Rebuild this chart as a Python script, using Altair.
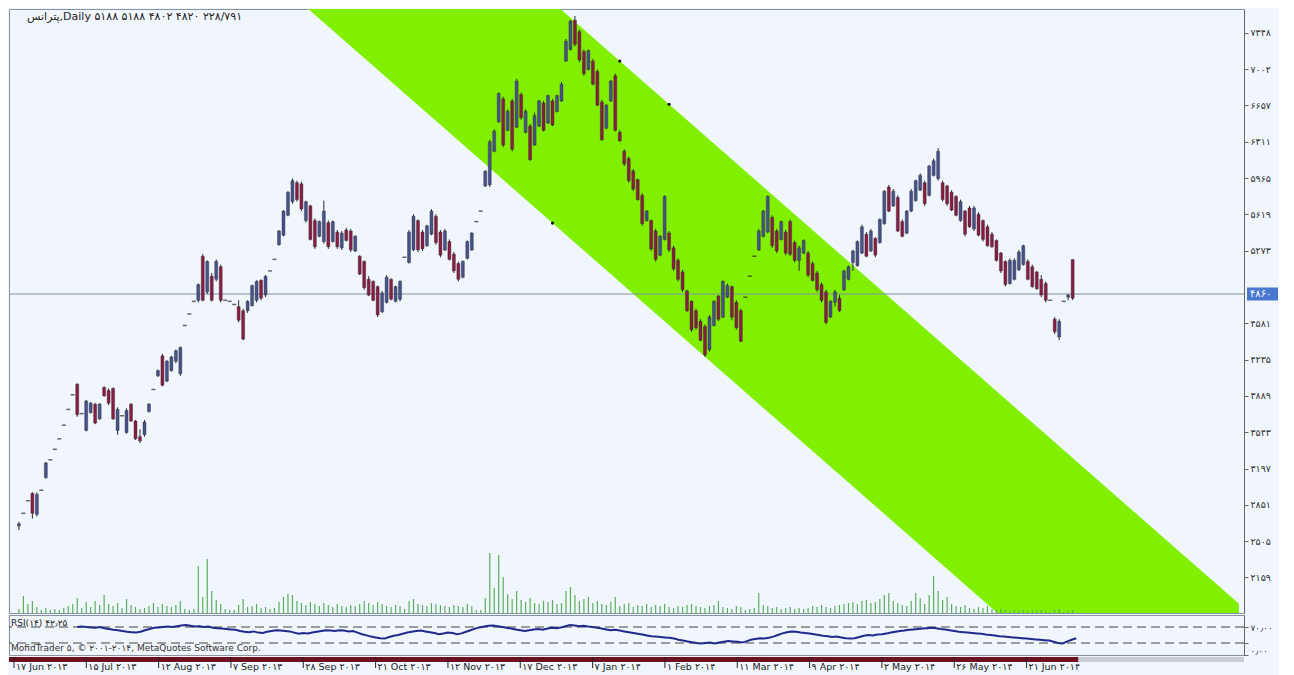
import altair as alt
import pandas as pd

# ---------------- data ----------------
open_ = [2650,2770,2890,2960,2760,2990,3110,3280,3380,3480,3610,3760,3900,4000,3720,3560,
3730,3810,3670,3970,3940,3960,3560,3700,3540,3810,3650,3500,3520,3740,3950,4080,
4270,4030,4130,4220,4100,4560,4670,4790,4800,5220,4880,5030,5000,5120,4800,4790,
4760,4740,4700,4700,4750,4800,4990,4850,5080,5190,5330,5420,5610,5740,5920,5910,
5560,5700,5560,5410,5360,5540,5360,5450,5300,5470,5460,5270,5220,5170,5000,4980,
4930,4690,4780,5000,4790,4810,5210,5160,5280,5560,5450,5320,5430,5600,5450,5280,
5360,5240,5150,5020,5200,5280,5550,5650,5890,5900,6220,6500,6720,6420,6700,6450,
6760,6400,6460,6280,6460,6680,6490,6700,6600,6700,7080,7190,7470,7360,7170,7000,
7080,6980,6690,6440,6700,6940,6400,6220,6150,6030,5950,5800,5560,5560,5460,5230,
5380,5440,5300,5180,5070,4890,4790,4700,4600,4550,4330,4560,4840,4640,4830,4930,
4780,4700,4830,5030,5220,5280,5410,5450,5590,5460,5380,5450,5550,5350,5180,5250,
5250,5150,5060,4950,4880,4640,4780,4820,4900,5000,5160,5130,5250,5430,5270,5390,
5350,5530,5880,5700,5780,5550,5440,5650,5750,5850,5920,5800,5990,5960,5920,5890,
5830,5790,5560,5650,5680,5480,5620,5560,5500,5430,5370,5250,5170,4960,5000,5090,
5140,5170,5120,5070,5000,4960,4800,4620,4450,4790,4830,5188]
high = [2690,2770,2890,2970,2970,2990,3260,3280,3380,3480,3610,3760,3900,4010,3720,3850,
3830,3820,3820,3980,3960,3970,3780,3700,3770,3820,3660,3570,3660,3820,3960,4140,
4290,4230,4270,4330,4360,4560,4670,4790,4960,5240,5180,5060,5190,5140,4800,4790,
4760,4800,4720,4800,4950,4990,5000,5040,5080,5190,5470,5660,5840,5960,5940,5930,
5750,5710,5580,5560,5750,5560,5560,5470,5460,5490,5480,5420,5230,5180,5030,4990,
4940,4890,5040,5010,4940,4990,5210,5470,5620,5570,5470,5520,5670,5620,5470,5480,
5380,5260,5170,5180,5370,5450,5550,5650,6040,6330,6430,6780,6740,6620,6720,6910,
6780,6620,6480,6590,6710,6700,6760,6720,6760,6880,7290,7470,7510,7380,7190,7190,
7100,7000,6710,6670,6900,6960,6420,6240,6170,6050,5960,5820,5660,5570,5480,5420,
5800,5460,5320,5200,5090,4900,4800,4720,4620,4570,4660,4800,4850,4990,4960,4940,
4800,4720,4830,5030,5220,5480,5660,5800,5610,5480,5560,5470,5570,5370,5320,5380,
5270,5170,5080,4970,4900,4800,4900,4850,5090,5130,5280,5370,5520,5450,5480,5400,
5580,5850,5900,5860,5800,5570,5660,5860,5950,6010,5940,6090,6150,6250,5940,5900,
5850,5800,5760,5660,5700,5700,5640,5570,5520,5450,5380,5260,5180,5200,5200,5280,
5330,5190,5140,5080,5040,4980,4800,4640,4620,4790,4860,5188]
low = [2610,2770,2890,2720,2740,2990,3100,3280,3380,3480,3610,3760,3900,3690,3720,3550,
3720,3620,3660,3880,3800,3660,3520,3700,3530,3640,3470,3440,3500,3730,3870,4070,
3980,4020,4120,4200,4080,4560,4670,4790,4780,4790,4860,4790,4980,4780,4800,4790,
4760,4590,4420,4680,4740,4780,4800,4830,5080,5190,5320,5410,5600,5720,5740,5650,
5540,5370,5290,5400,5340,5290,5350,5290,5280,5360,5260,5260,5040,4900,4840,4790,
4640,4680,4770,4800,4780,4790,5210,5150,5270,5260,5270,5310,5420,5330,5210,5270,
5180,5060,4980,5010,5190,5270,5550,5650,5880,5880,6210,6490,6260,6410,6220,6440,
6520,6390,6130,6270,6450,6410,6480,6460,6590,6690,7070,7180,7220,7070,6940,6990,
6850,6650,6320,6430,6690,6410,6310,6080,5920,5840,5750,5510,5550,5270,5170,5220,
5370,5260,5080,4980,4880,4690,4500,4520,4410,4260,4310,4550,4600,4630,4820,4610,
4520,4400,4830,5030,5220,5270,5400,5440,5300,5250,5370,5230,5220,5160,5080,5240,
5020,4980,4880,4780,4570,4630,4740,4690,4890,4990,5080,5120,5240,5210,5260,5210,
5340,5520,5640,5690,5450,5400,5430,5640,5740,5840,5700,5790,5980,5940,5740,5700,
5650,5600,5550,5410,5490,5460,5410,5360,5310,5300,5170,5060,4930,4950,4990,5080,
5130,4990,4920,4900,4830,4780,4800,4480,4420,4790,4800,4802]
close = [2670,2770,2890,2770,2950,2990,3250,3280,3380,3480,3610,3760,3900,3710,3720,3840,
3820,3630,3810,3890,3820,3670,3760,3700,3750,3650,3480,3460,3640,3810,3950,4130,
3990,4220,4260,4320,4350,4560,4670,4790,4950,4800,5170,4800,5170,4800,4800,4790,
4760,4610,4430,4790,4940,4980,4820,5030,5080,5190,5460,5650,5830,5940,5760,5670,
5740,5380,5310,5550,5650,5310,5550,5310,5440,5370,5280,5410,5050,4920,4850,4800,
4660,4870,5020,4810,4930,4980,5210,5450,5600,5280,5290,5510,5650,5350,5230,5460,
5190,5080,5000,5170,5360,5440,5550,5650,6030,6310,6410,6770,6280,6600,6240,6890,
6540,6600,6140,6560,6700,6420,6750,6470,6750,6860,7270,7460,7240,7090,6960,7180,
6860,6660,6330,6660,6890,6420,6320,6100,5940,5860,5760,5530,5650,5290,5190,5410,
5790,5280,5100,5000,4900,4700,4520,4540,4420,4280,4640,4790,4620,4980,4940,4640,
4540,4410,4830,5030,5220,5460,5650,5790,5320,5270,5550,5250,5240,5180,5300,5370,
5040,4990,4900,4800,4590,4790,4880,4700,5080,5120,5270,5360,5500,5220,5460,5230,
5570,5840,5650,5840,5460,5410,5650,5840,5940,5990,5720,6080,6130,6220,5760,5720,
5660,5610,5740,5430,5500,5680,5420,5380,5320,5310,5180,5080,4950,5180,5180,5260,
5320,5000,4930,4910,4850,4800,4800,4500,4600,4790,4850,4820]
volume = [0.4,1.7,0.9,1.2,0.6,0.3,0.5,0.3,0.4,0.3,0.5,0.7,0.9,1.5,0.5,1.1,
0.6,1.2,0.8,1.8,0.9,0.7,1.0,0.5,1.4,0.8,0.6,0.4,0.5,0.7,1.0,0.6,
0.9,0.7,0.6,0.8,1.2,0.4,0.3,0.4,4.7,1.6,5.4,2.2,1.3,0.9,0.4,0.3,
0.3,0.8,1.4,0.6,0.7,0.9,0.5,0.6,0.4,0.5,1.1,1.6,1.9,1.8,1.2,1.0,
0.8,1.1,0.9,0.7,1.0,0.8,0.6,0.9,0.7,0.6,0.8,0.7,0.9,1.2,1.0,0.8,
1.1,0.9,0.7,0.6,0.8,0.7,0.4,1.2,1.4,0.9,0.8,0.7,1.0,0.9,0.8,0.7,
0.6,0.8,0.7,0.6,0.9,0.7,0.3,0.3,1.5,6.0,2.5,5.8,3.6,1.9,1.4,2.2,
1.3,1.1,1.5,1.0,0.9,1.2,1.1,1.3,0.9,1.0,2.2,2.6,1.8,1.2,1.4,1.6,
1.0,1.2,0.9,0.8,1.1,1.6,0.7,0.9,1.0,0.6,0.8,0.7,0.9,0.6,0.8,0.7,
0.9,0.6,0.5,0.7,0.6,0.8,0.9,0.7,0.6,0.5,0.7,0.8,1.2,0.6,0.5,0.4,
0.7,0.6,0.3,0.4,0.5,2.0,0.8,0.7,0.5,0.6,0.4,0.5,0.6,0.4,0.5,0.4,
0.5,0.7,0.6,0.8,0.6,0.5,0.7,0.8,0.9,1.0,1.1,0.9,1.2,1.3,1.0,1.1,
1.4,1.8,2.0,1.2,1.0,0.8,0.7,1.2,2.0,1.5,0.9,1.8,3.7,2.2,1.3,1.6,
0.9,0.7,0.6,0.8,0.5,0.4,0.6,0.5,0.7,0.4,0.3,0.4,0.3,0.2,0.3,0.2,
0.3,0.2,0.3,0.2,0.3,0.2,0.1,0.3,0.4,0.1,0.2,0.3]
rsi_start = 14
rsi = [70,71,70,69,68,70,67,65,63,62,60,58,57,56,58,62,
65,68,69,70,71,70,72,74,75,73,71,72,70,71,68,67,
66,65,64,63,60,58,57,59,56,55,58,60,62,61,60,59,
56,53,55,54,56,58,60,62,61,60,62,61,59,60,56,52,
49,46,44,42,41,45,48,50,53,56,58,60,61,59,57,55,
52,54,56,55,52,54,58,62,66,69,71,73,74,72,70,68,
66,64,62,60,62,64,65,63,66,68,67,69,72,75,74,72,
73,71,70,68,66,64,62,63,61,59,57,55,53,51,49,47,
46,45,44,43,41,38,36,34,32,30,29,30,31,29,31,33,
35,34,33,31,34,38,40,42,41,43,46,50,54,57,59,58,
56,55,54,52,50,48,47,45,46,44,42,41,42,45,48,50,
49,51,52,54,56,58,60,61,63,64,65,66,67,68,67,65,
64,62,60,58,57,56,55,54,53,51,50,49,47,46,45,44,
43,42,41,40,39,38,37,36,33,30,29,34,38,42]
rsi_levels = [70, 30]

price_ticks = [7348, 7002, 6657, 6311, 5965, 5619, 5273, 4581, 4235, 3889, 3543, 3197, 2851, 2505, 2159]
rsi_ticks = [70, 30, 0]

date_bars = [0, 16, 32, 48, 64, 80, 96, 112, 128, 144, 160, 176, 192, 208, 224]
date_labels = ["۱۷ Jun ۲۰۱۳", "۱۵ Jul ۲۰۱۳", "۱۲ Aug ۲۰۱۳", "۷ Sep ۲۰۱۳", "۲۸ Sep ۲۰۱۳",
               "۲۱ Oct ۲۰۱۳", "۱۲ Nov ۲۰۱۳", "۱۷ Dec ۲۰۱۳", "۷ Jan ۲۰۱۴", "۱ Feb ۲۰۱۴",
               "۱۱ Mar ۲۰۱۴", "۹ Apr ۲۰۱۴", "۲ May ۲۰۱۴", "۲۶ May ۲۰۱۴", "۲۱ Jun ۲۰۱۴"]

# channel: two anchor points on the upper edge, one on the lower edge (bar, price)
ch_upper = [(134, 7080), (145, 6668)]
ch_lower = (119, 5536)

price_line = 4860
header = "پترانس,Daily ۵۱۸۸ ۵۱۸۸ ۴۸۰۲ ۴۸۲۰ ۲۲۸/۷۹۱"
rsi_title = "RSI(۱۴) ۴۲٫۲۵"
copyright_txt = "MofidTrader ۵, © ۲۰۰۱-۲۰۱۴, MetaQuotes Software Corp."

# ---------------- helpers ----------------
FA = str.maketrans("0123456789", "۰۱۲۳۴۵۶۷۸۹")
def fa(s):
    return str(s).translate(FA)

def label_expr(values, labels):
    parts = [f"datum.value == {v} ? '{l}'" for v, l in zip(values, labels)]
    return " : ".join(parts) + " : ''"

FONT = "DejaVu Sans"
W = 1235
H_MAIN = 604
H_RSI = 40
H_DATE = 20
X_DOMAIN = [-1.1, 272.1]
P_DOMAIN = [1820, 7576]
BEAR = "#8a1c44"
BULL = "#46528c"

xs = alt.Scale(domain=X_DOMAIN, nice=False, zero=False)
ys = alt.Scale(domain=P_DOMAIN, nice=False, zero=False)
X = alt.X("bar:Q", scale=xs, axis=None)
PAXIS = alt.Axis(orient="right", values=price_ticks,
                 labelExpr=label_expr(price_ticks, [fa(v) for v in price_ticks]),
                 tickSize=4, labelFontSize=9.5, labelFont=FONT, labelColor="#333",
                 domainColor="#666", tickColor="#666", grid=False, title=None, labelPadding=2)

def PY(field):
    return alt.Y(field, scale=ys, axis=PAXIS)

N = len(close)
df = pd.DataFrame({"bar": list(range(N)), "open": open_, "high": high,
                   "low": low, "close": close, "vol": volume})
df["dir"] = ["up" if c > o else ("down" if c < o else "flat") for o, c in zip(open_, close)]

slope = (ch_upper[0][1] - ch_upper[1][1]) / (ch_upper[1][0] - ch_upper[0][0])
band = pd.DataFrame({"bar": X_DOMAIN})
band["upper"] = [ch_upper[0][1] - slope * (b - ch_upper[0][0]) for b in X_DOMAIN]
band["lower"] = [ch_lower[1] - slope * (b - ch_lower[0]) for b in X_DOMAIN]
anchors = pd.DataFrame({"bar": [ch_upper[0][0], ch_upper[1][0], ch_lower[0]],
                        "price": [ch_upper[0][1], ch_upper[1][1], ch_lower[1]]})

band_l = alt.Chart(band).mark_area(color="#80f000", clip=True, interpolate="linear").encode(
    x=X, y=PY("upper:Q"), y2="lower:Q")

anchor_l = alt.Chart(anchors).mark_circle(size=10, color="#111", opacity=1).encode(
    x=X, y=PY("price:Q"))

pline = alt.Chart(pd.DataFrame({"p": [price_line]})).mark_rule(color="#7f90a3", strokeWidth=1).encode(
    y=PY("p:Q"))

wick = alt.Chart(df).transform_filter("datum.dir != 'flat'").mark_rule(color="#2a2a2a", strokeWidth=1).encode(
    x=X, y=PY("low:Q"), y2="high:Q")

body = alt.Chart(df).transform_filter("datum.dir != 'flat'").mark_bar(size=3, stroke="#2a2a2a", strokeWidth=0.4).encode(
    x=X, y=PY("open:Q"), y2="close:Q",
    color=alt.Color("dir:N", scale=alt.Scale(domain=["up", "down"], range=[BULL, BEAR]), legend=None))

dash = alt.Chart(df).transform_filter("datum.dir == 'flat'").mark_tick(
    orient="horizontal", size=4, thickness=1.5, color="#2a2a2a").encode(
    x=X, y=PY("close:Q"))

lab = pd.DataFrame({"p": [price_line], "p1": [price_line - 62], "p2": [price_line + 62], "t": [fa(price_line)]})
lab_box = alt.Chart(lab).mark_rect(color="#4a78d0").encode(
    x=alt.value(W + 3), x2=alt.value(W + 34), y=PY("p1:Q"), y2="p2:Q")
lab_txt = alt.Chart(lab).mark_text(color="white", fontSize=10, font=FONT, align="left", baseline="middle").encode(
    x=alt.value(W + 6), y=PY("p:Q"), text="t:N")

head = alt.Chart(pd.DataFrame({"t": [header]})).mark_text(
    align="left", baseline="middle", fontSize=11, font=FONT, color="#222").encode(
    x=alt.value(18), y=alt.value(8), text="t:N")

price_layers = alt.layer(band_l, pline, anchor_l, wick, body, dash, lab_box, lab_txt, head)

vol = alt.Chart(df).mark_bar(size=1.2, color="#5aae5a").encode(
    x=X, y=alt.Y("vol:Q", scale=alt.Scale(domain=[0, H_MAIN / 10], nice=False), axis=None))

main = alt.layer(price_layers, vol).resolve_scale(y="independent").properties(width=W, height=H_MAIN)

# ---- RSI pane ----
rsi_df = pd.DataFrame({"bar": list(range(rsi_start, rsi_start + len(rsi))), "rsi": rsi})
rs = alt.Scale(domain=[0, 100], nice=False)
rsi_lab = [fa(v) + "٫۰۰" for v in rsi_ticks]
RAXIS = alt.Axis(orient="right", values=rsi_ticks,
                 labelExpr=label_expr(rsi_ticks, rsi_lab), tickSize=4, labelFontSize=9,
                 labelFont=FONT, labelColor="#333", domainColor="#666", tickColor="#666",
                 grid=False, title=None, labelPadding=2, labelFlush=True)
lv = alt.Chart(pd.DataFrame({"lv": rsi_levels})).mark_rule(color="#444", strokeDash=[9, 5], strokeWidth=1).encode(
    y=alt.Y("lv:Q", scale=rs, axis=RAXIS))
rline = alt.Chart(rsi_df).mark_line(color="#1f2a8c", strokeWidth=2).encode(
    x=X, y=alt.Y("rsi:Q", scale=rs, axis=RAXIS))
rtxt = alt.Chart(pd.DataFrame({"t": [rsi_title]})).mark_text(
    align="left", baseline="middle", fontSize=9, font=FONT, color="#222").encode(
    x=alt.value(2), y=alt.value(8), text="t:N")
ctxt = alt.Chart(pd.DataFrame({"t": [copyright_txt]})).mark_text(
    align="left", baseline="middle", fontSize=9, font=FONT, color="#333").encode(
    x=alt.value(2), y=alt.value(33), text="t:N")
rsi_pane = alt.layer(lv, rline, rtxt, ctxt).properties(width=W, height=H_RSI)

# ---- date strip ----
last_bar = N - 0.5
hist = pd.DataFrame({"a": [X_DOMAIN[0]], "b": [last_bar]})
fut = pd.DataFrame({"a": [last_bar], "b": [X_DOMAIN[1]]})
strip_h = alt.Chart(hist).mark_rect(color="#6e1020").encode(
    x=alt.X("a:Q", scale=xs, axis=None), x2="b:Q", y=alt.value(0), y2=alt.value(5))
strip_f = alt.Chart(fut).mark_rect(color="#c9ced6").encode(
    x=alt.X("a:Q", scale=xs, axis=None), x2="b:Q", y=alt.value(0), y2=alt.value(5))
dates = pd.DataFrame({"bar": date_bars, "t": date_labels})
dtick = alt.Chart(dates).mark_rule(color="#222", strokeWidth=1).encode(
    x=X, y=alt.value(0), y2=alt.value(11))
dtxt = alt.Chart(dates).mark_text(align="left", baseline="middle", dx=2, fontSize=9.5, font=FONT, color="#222").encode(
    x=X, y=alt.value(10), text="t:N")
date_pane = alt.layer(strip_h, strip_f, dtick, dtxt).properties(
    width=W, height=H_DATE, view=alt.ViewBackground(stroke="transparent"))

chart = alt.vconcat(main, rsi_pane, date_pane, spacing=0).properties(
    background="#f0f6fc", padding=0
).configure_view(stroke="#8593a2", strokeWidth=1)

chart.save("out.html", embed_options={"renderer": "svg", "actions": False})
